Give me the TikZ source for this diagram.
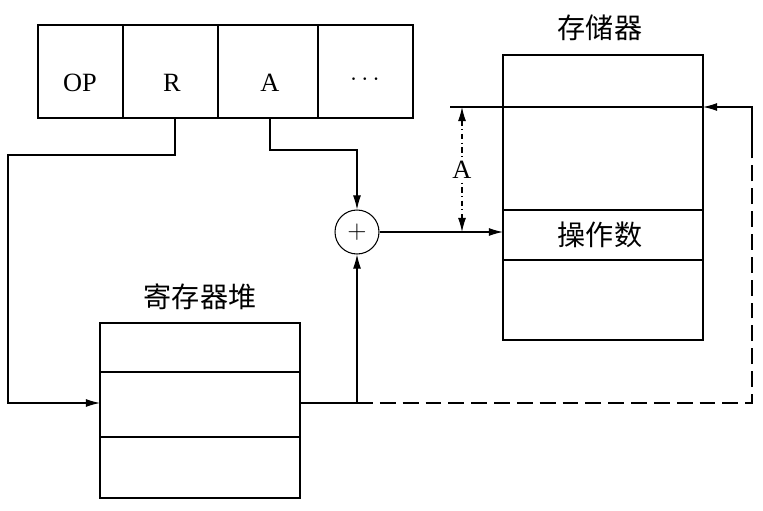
\documentclass[tikz,border=0pt]{standalone}
\usepackage{fontspec}
\setmainfont{Liberation Serif}
\newfontfamily\cjk{Noto Sans CJK SC}
\usetikzlibrary{arrows.meta,positioning}
\tikzset{
  cell/.style={draw,minimum height=1.1cm,inner sep=0pt},
  lab/.style={font=\cjk\fontsize{16}{16}\selectfont},
  arr/.style={-{Latex[length=8pt,width=4.5pt]}},
}
\begin{document}
\begin{tikzpicture}[x=0.02cm,y=-0.02cm,line width=0.6pt,font=\fontsize{15}{15}\selectfont]
\useasboundingbox (0,0) rectangle (763,510);
% instruction word
\draw (38,25) rectangle (413,118);
\foreach \x in {123,218,318} \draw (\x,25) -- (\x,118);
\node (op) at (80,83) {OP};
\node (r) at (172,83) {R};
\node (a) at (270,83) {A};
\node (dots) at (365,80) {$\cdots$};
% memory
\node[lab] (memlab) at (600,28) {存储器};
\draw (503,55) rectangle (703,340);
\foreach \y in {107,210,260} \draw (503,\y) -- (703,\y);
\node[lab] (opnd) at (600,235) {操作数};
\draw (450,107) -- (503,107);
% register file
\node[lab] (reglab) at (200,297) {寄存器堆};
\draw (100,323) rectangle (300,498);
\foreach \y in {372,437} \draw (100,\y) -- (300,\y);
\coordinate (rin) at (100,403);
\coordinate (rout) at (300,403);
% adder
\node[draw,circle,minimum size=0.88cm,inner sep=0pt] (add) at (357,232) {$+$};
\coordinate (min) at (503,232);
\coordinate (rtop) at (175,118);
\coordinate (atop) at (270,118);
% connectors
\draw[arr] (rtop) |- (8,155) |- (rin);
\draw[arr] (atop) |- (357,150) -- (add.north);
\draw[arr] (rout) -| (add.south);
\draw[arr] (add.east) -- (min);
\draw[dashed,dash pattern=on 9pt off 4pt] (357,403) -| (752,150);
\draw[arr] (752,150) |- (703,107);
% offset A
\draw[{Latex[length=8pt,width=4.5pt]}-{Latex[length=8pt,width=4.5pt]},dash dot] (462,107) -- node[fill=white,inner sep=1pt] (off) {A} (462,232);
\end{tikzpicture}
\end{document}
